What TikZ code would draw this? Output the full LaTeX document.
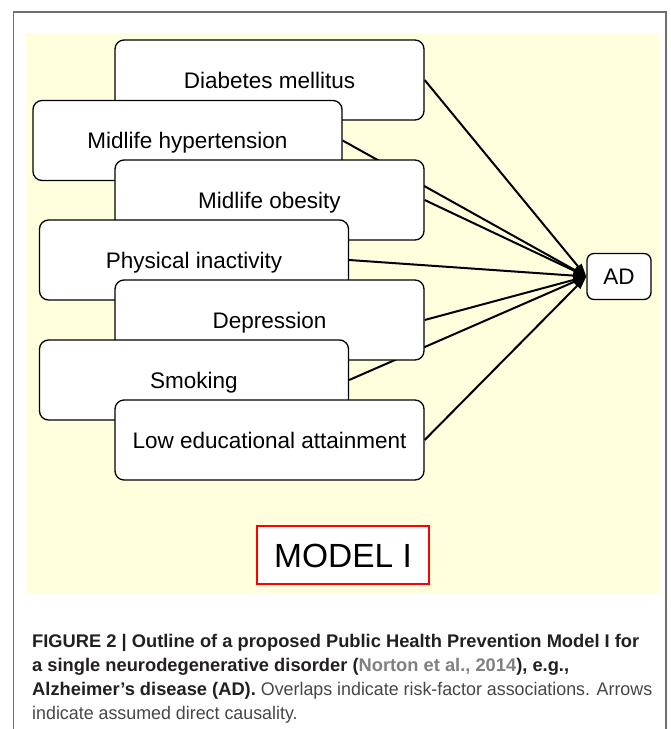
\documentclass[tikz,border=0pt]{standalone}
\usepackage{fontspec}
\setmainfont{Liberation Sans}
\newfontfamily\capregfont[FakeStretch=0.975]{Liberation Sans}
\usetikzlibrary{arrows.meta}
\definecolor{bgyellow}{RGB}{255,255,222}
\definecolor{framegray}{RGB}{110,110,110}
\definecolor{capdark}{RGB}{35,31,32}
\definecolor{capreg}{RGB}{70,70,70}
\definecolor{citegray}{RGB}{128,128,128}
\definecolor{modelred}{RGB}{255,0,0}
\pgfdeclarelayer{bglayer}
\pgfdeclarelayer{arrowlayer}
\pgfsetlayers{bglayer,arrowlayer,main}
\begin{document}
\begin{tikzpicture}[x=1pt,y=-1pt,
  factor/.style={draw=black, line width=1.3pt, fill=white, rounded corners=9pt,
    minimum width=309pt, minimum height=80pt, inner sep=0pt,
    font=\fontsize{22.5}{27}\selectfont, text height=16.2pt, text depth=0pt},
  adbox/.style={factor, minimum width=64pt, minimum height=46pt, rounded corners=7pt},
  cause/.style={line width=2pt, -{Triangle[length=13pt,width=8.5pt]}},
  modelbox/.style={draw=modelred, line width=1.5pt, fill=white,
    minimum width=172pt, minimum height=58pt, inner sep=0pt,
    font=\fontsize{33.5}{40}\selectfont, text height=24pt, text depth=0pt},
  capline/.style={anchor=base west, inner sep=0pt, font=\fontsize{18.3}{24}\selectfont}
]
\useasboundingbox (0,0) rectangle (671,729);
\begin{pgfonlayer}{bglayer}
  \begin{scope}
    \clip (0,0) rectangle (671,729);
    \draw[framegray, line width=1.5pt] (13.5,760) -- (13.5,12) -- (666,12) -- (666,760);
  \end{scope}
  \fill[bgyellow] (26,33) rectangle (659,593);
\end{pgfonlayer}

\node[factor] (dm) at (269.5,80) {Diabetes mellitus};
\node[factor] (mh) at (187.5,140.5) {Midlife hypertension};
\node[factor] (mo) at (269.5,200) {Midlife obesity};
\node[factor] (pi) at (194,260) {Physical inactivity};
\node[factor] (de) at (269.5,320) {Depression};
\node[factor] (sm) at (194,380) {Smoking};
\node[factor] (le) at (269.5,440) {Low educational attainment};
\node[adbox] (ad) at (619,276.5) {AD};

\begin{pgfonlayer}{arrowlayer}
  \foreach \f in {dm,mh,mo,pi,de,sm,le}
    \draw[cause] (\f.east) -- (ad.west);
\end{pgfonlayer}

\node[modelbox] (model) at (343,555) {MODEL I};

\node[capline, text=capdark] (c1) at (32,647)
  {\bfseries FIGURE 2 | Outline of a proposed Public Health Prevention Model I for};
\node[capline, text=capdark] (c2) at (32,671)
  {\bfseries a single neurodegenerative disorder (\textcolor{citegray}{Norton et al., 2014}), e.g.,};
\node[capline, text=capreg] (c3) at (32,695)
  {\textcolor{capdark}{\bfseries Alzheimer’s disease (AD).}\capregfont{} Overlaps indicate risk-factor associations. Arrows};
\node[capline, text=capreg] (c4) at (32,719)
  {\capregfont indicate assumed direct causality.};
\end{tikzpicture}
\end{document}
